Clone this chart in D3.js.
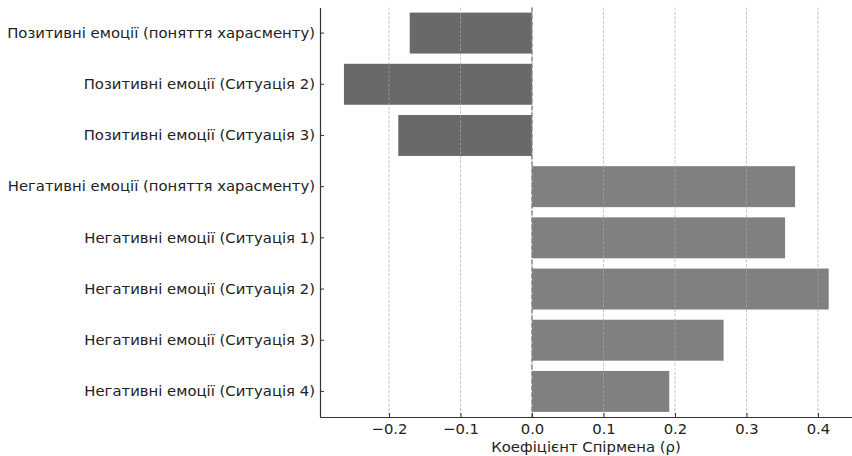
<!DOCTYPE html>
<html>
<head>
<meta charset="utf-8">
<script src="https://cdn.jsdelivr.net/npm/d3@7"></script>
<style>
  body { margin: 0; background: #fff; }
  svg { display: block; font-family: "DejaVu Sans", sans-serif; }
</style>
</head>
<body>
<div class="container"></div>
<script>
const categories = [
    "Позитивні емоції (поняття харасменту)",
    "Позитивні емоції (Ситуація 2)",
    "Позитивні емоції (Ситуація 3)",
    "Негативні емоції (поняття харасменту)",
    "Негативні емоції (Ситуація 1)",
    "Негативні емоції (Ситуація 2)",
    "Негативні емоції (Ситуація 3)",
    "Негативні емоції (Ситуація 4)"
]
const rho = [-0.171, -0.263, -0.187, 0.368, 0.354, 0.415, 0.268, 0.192]
const groups = ["pos", "pos", "pos", "neg", "neg", "neg", "neg", "neg"]
const xTicks = [-0.2, -0.1, 0.0, 0.1, 0.2, 0.3, 0.4]

const width = 852
const height = 456
const margin = { top: 7.5, bottom: 39, left: 320, right: 0 }
const fontSize = "14.85px"

let svg = d3.select(".container")
    .append("svg")
    .attr("width", width)
    .attr("height", height)
    .attr("viewBox", [0, 0, width, height])

let xScale = d3.scaleLinear()
    .domain([-0.2965, 0.4476])
    .range([margin.left, width - margin.right])

let yScale = d3.scaleBand()
    .domain(categories)
    .range([margin.top, height - margin.bottom])
    .paddingInner(0.2)
    .paddingOuter(0.1)

let colour = { pos: "#696969", neg: "#808080" }

// bars
svg.append("g")
    .selectAll("rect")
    .data(categories)
    .join("rect")
    .attr("x", (d, i) => xScale(Math.min(0, rho[i])))
    .attr("width", (d, i) => Math.abs(xScale(rho[i]) - xScale(0)))
    .attr("y", d => yScale(d))
    .attr("height", yScale.bandwidth())
    .attr("fill", (d, i) => colour[groups[i]])

// grid on top of bars
svg.append("g")
    .selectAll("line")
    .data(xTicks)
    .join("line")
    .attr("x1", d => xScale(d))
    .attr("x2", d => xScale(d))
    .attr("y1", margin.top)
    .attr("y2", height - margin.bottom)
    .attr("stroke", "#a8a8a8")
    .attr("stroke-opacity", 0.75)
    .attr("stroke-width", 0.9)
    .attr("stroke-dasharray", "3,1.5")

// zero line
svg.append("line")
    .attr("x1", xScale(0))
    .attr("x2", xScale(0))
    .attr("y1", margin.top)
    .attr("y2", height - margin.bottom)
    .attr("stroke", "#808080")
    .attr("stroke-width", 1.3)
    .attr("stroke-dasharray", "5,2")

let xAxis = svg.append("g")
    .attr("transform", `translate(0, ${height - margin.bottom})`)
    .call(d3.axisBottom(xScale)
        .tickValues(xTicks)
        .tickSizeInner(-4)
        .tickSizeOuter(0)
        .tickPadding(6)
        .tickFormat(d => d3.format(".1f")(d).replace("-", "\u2212")))

let yAxis = svg.append("g")
    .attr("transform", `translate(${margin.left}, 0)`)
    .call(d3.axisLeft(yScale)
        .tickSizeInner(-4)
        .tickSizeOuter(0)
        .tickPadding(5))

svg.selectAll(".domain")
    .attr("stroke", "#333")
    .attr("stroke-width", 1.2)
svg.selectAll(".tick line")
    .attr("stroke", "#333")
    .attr("stroke-width", 1)
svg.selectAll(".tick text")
    .attr("font-size", fontSize)
    .attr("fill", "#222")
    .attr("font-family", "DejaVu Sans, sans-serif")

svg.append("text")
    .attr("text-anchor", "middle")
    .attr("x", (margin.left + width - margin.right) / 2)
    .attr("y", 452)
    .attr("font-size", fontSize)
    .attr("fill", "#222")
    .text("Коефіцієнт Спірмена (ρ)")
</script>
</body>
</html>
